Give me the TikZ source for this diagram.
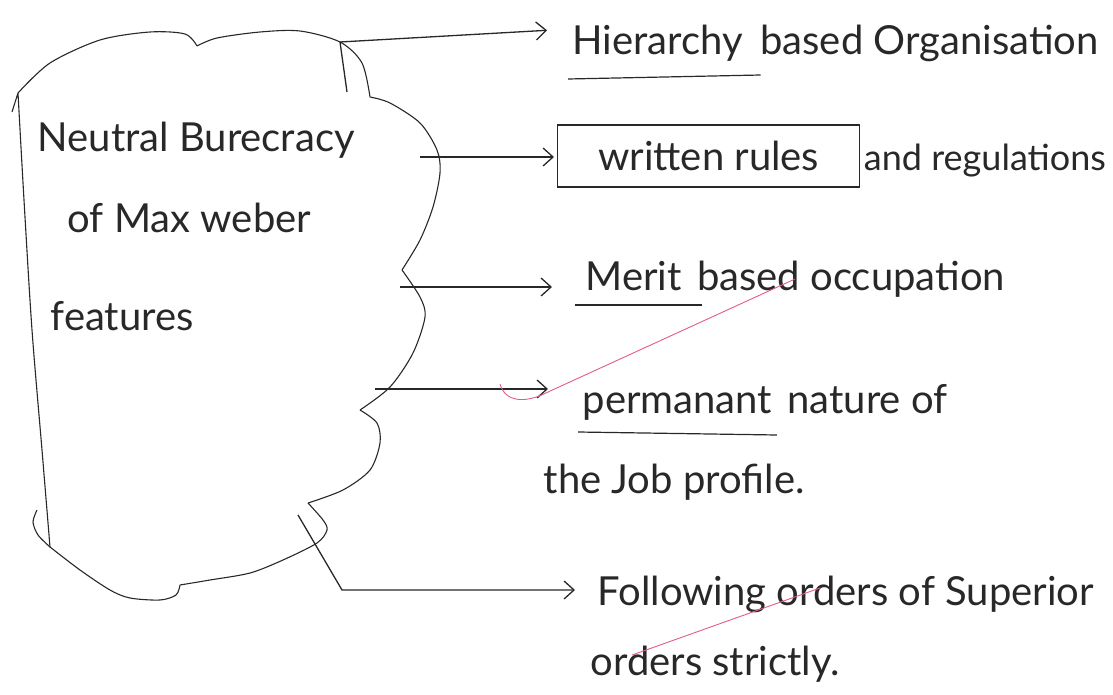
\documentclass[tikz,border=0pt]{standalone}
\usepackage{fontspec}
\setmainfont{Lato}
\usepackage{xcolor}
\usetikzlibrary{positioning, arrows.meta}
\definecolor{pen}{RGB}{40,40,40}
\definecolor{markpink}{RGB}{226,92,138}

\begin{document}
\begin{tikzpicture}[x=1pt, y=-1pt, line width=1.3pt, color=pen, >={Straight Barb[length=10pt,width=18pt]},
    hand/.style={inner sep=0pt, anchor=base west, font=\fontsize{40}{48}\selectfont},
    arr/.style={->, shorten >=28pt},
    uline/.style={line width=1.2pt}]
    \useasboundingbox (0,0) rectangle (1113,695);
    \draw[line width=1.1pt] plot[smooth] coordinates {(18,93) (50,63) (100,40) (150,32) (185,34) (197,46)}
        plot[smooth] coordinates {(197,46) (217,38) (260,32) (300,31) (340,42) (362,63) (370,97)}
        plot[smooth] coordinates {(370,97) (390,103) (420,123) (437,150) (440,173) (433,207) (420,240) (402,270)}
        plot[smooth] coordinates {(402,270) (420,297) (425,317) (413,353) (390,387) (360,410)}
        plot[smooth] coordinates {(360,410) (377,423) (380,443) (370,470) (343,490) (308,503)}
        plot[smooth] coordinates {(308,503) (323,520) (327,530) (317,543) (283,560) (250,573) (210,580) (180,585)}
        plot[smooth] coordinates {(180,585) (176,595) (160,600) (130,598) (110,590) (80,570) (50,547)}
        plot[smooth] coordinates {(50,547) (38,535) (33,522) (37,510)};
    \draw[line width=1.1pt] (12,112) -- (18,93) plot[smooth] coordinates {(18,93) (24,200) (32,330) (42,450) (50,547)};
    \node[hand] (title1) at (37,152) {Neutral Burecracy};
    \node[hand] (title2) at (67,233) {of Max weber};
    \node[hand] (title3) at (50,330) {features};
    \node[hand] (hier) at (572,55) {Hierarchy};
    \node[hand, base right=16pt of hier] (hierrest) {based Organisation};
    \node[hand, draw, anchor=west, minimum width=302pt, minimum height=62pt] (rules) at (557,156) {written rules};
    \node[hand, base right=3pt of rules, font=\fontsize{36}{44}\selectfont] (regul) {and regulations};
    \node[hand] (merit) at (585,290) {Merit};
    \node[hand, base right=14pt of merit] (meritrest) {based occupation};
    \node[hand] (perm) at (582,413) {permanant};
    \node[hand, base right=14pt of perm] (permrest) {nature of};
    \node[hand] (job) at (543,493) {the Job profile.};
    \node[hand] (follow) at (597,605) {Following orders of Superior};
    \node[hand] (strict) at (590,675) {orders strictly.};
    \coordinate (a1) at (340,42);
    \coordinate (a2) at (420,157);
    \coordinate (a3) at (400,287);
    \coordinate (a4) at (375,389);
    \coordinate (a5) at (298,515);
    \coordinate (a5k) at (342,590);
    \draw (a1) -- (347,92);
    \draw[arr, shorten >=25pt] (a1) -- ([yshift=-4pt]hier.north west);
    \draw[arr, shorten >=3pt] (a2) -- (a2 -| rules.west);
    \draw[arr, shorten >=33pt] (a3) -- (a3 -| merit.west);
    \draw[arr, shorten >=34pt] (a4) -- (a4 -| perm.west);
    \draw[arr, shorten >=22pt] (a5) -- (a5k) -- (a5k -| follow.west);
    \draw[uline] ([xshift=-4pt, yshift=-24pt]hier.base west) -- ([xshift=17pt, yshift=-20pt]hier.base east);
    \draw[uline] ([xshift=-10pt, yshift=-15pt]merit.base west) -- ([xshift=20pt, yshift=-15pt]merit.base east);
    \draw[uline] ([xshift=-4pt, yshift=-19pt]perm.base west) -- ([xshift=4pt, yshift=-22pt]perm.base east);
    \draw[markpink, line width=0.9pt] (500,384) .. controls (505,402) and (525,404) .. (548,392) -- (795,279);
    \draw[markpink, line width=0.9pt] (632,655) -- (820,588);
\end{tikzpicture}
\end{document}
